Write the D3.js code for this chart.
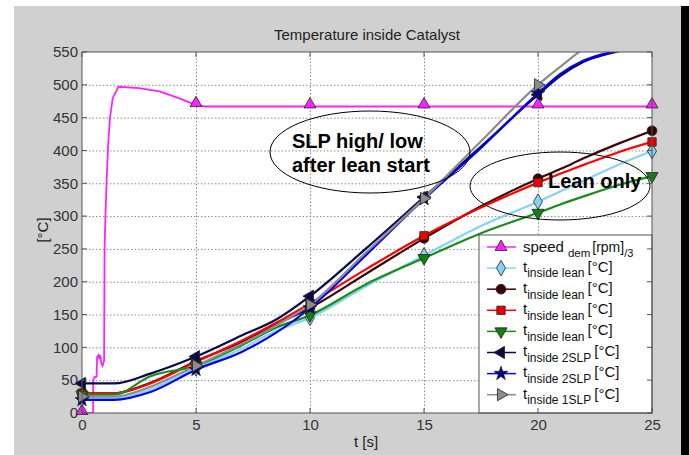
<!DOCTYPE html>
<html lang="en">
<head>
	<meta charset="utf-8">
	<title>Temperature inside Catalyst</title>
	<script src="https://d3js.org/d3.v7.min.js"></script>
	<style>
		body { margin: 0; background: #fff; }
		text { font-family: Arial, "Liberation Sans", sans-serif; }
	</style>
</head>
<body>
	<div id="chart"></div>
	<script>
		// ---- data ----
		var xTicks = [0, 5, 10, 15, 20, 25];
		var yTicks = [0, 50, 100, 150, 200, 250, 300, 350, 400, 450, 500, 550];

		// time points [s] for the temperature traces
		var tempTime = [0, 1.4, 3, 5, 7, 8.5, 10, 12.5, 15, 17.5, 20, 21, 22, 23.5, 25];
		var leanLightBlue = [22, 22, 36, 68, 98, 125, 145, 194, 240, 285, 322, 338, 354, 378, 399];
		var leanBrown     = [30, 30, 46, 79, 108, 135, 160, 213, 266, 315, 357, 372, 388, 410, 430];
		var leanRed       = [30, 30, 45, 78, 110, 137, 167, 220, 270, 313, 351, 365, 378, 397, 413];
		var leanGreen     = [28, 28, 56, 72, 103, 130, 149, 197, 236, 274, 305, 318, 330, 347, 361];
		var slp2Navy      = [45, 45, 60, 86, 118, 142, 178, 252, 329, 406, 485, 514, 535, 551, 562];
		var slp2Blue      = [20, 20, 32, 66, 93, 122, 160, 242, 326, 404, 487, 517, 537, 552, 563];
		var slp1Gray      = [25, 25, 40, 72, 105, 133, 165, 246, 327, 414, 500, 528, 555, 580, 598];

		// demanded speed [rpm]/3
		var speedTime = [0, 0.49, 0.49, 0.55, 0.64, 0.66, 0.72, 0.76, 0.8, 0.85, 0.9, 0.97, 0.99, 1.02, 1.08, 1.15, 1.23, 1.35, 1.6, 2.5, 3.4, 4.3, 5, 5.4, 25];
		var speedVals = [0, 0, 50, 55, 55, 85, 88, 82, 88, 75, 72, 80, 250, 290, 355, 410, 451, 480, 497, 495, 490, 479, 469, 467, 467];
		var speedMarkT = [0, 5, 10, 15, 20, 25];
		var speedMarkV = [0, 469, 467, 467, 467, 467];

		var W = 689, H = 455;
		var plotL = 82, plotT = 52, plotR = 652, plotB = 413;

		var svg = d3.select("#chart").append("svg")
			.attr("width", W)
			.attr("height", H);

		// figure background
		svg.append("rect").attr("x", 14).attr("y", 6).attr("width", 667).attr("height", H - 6).attr("fill", "#d0d0d0");
		svg.append("rect").attr("x", 681).attr("y", 6).attr("width", 8).attr("height", H - 6).attr("fill", "#000");
		svg.append("rect").attr("x", plotL).attr("y", plotT).attr("width", plotR - plotL).attr("height", plotB - plotT).attr("fill", "#fff");

		var x = d3.scaleLinear().domain([0, 25]).range([plotL, plotR]);
		var y = d3.scaleLinear().domain([0, 550]).range([plotB, plotT]);

		// dotted grid
		var gridX = svg.append("g")
			.attr("transform", "translate(0," + plotB + ")")
			.call(d3.axisBottom(x).tickValues(xTicks.slice(1, -1)).tickSize(-(plotB - plotT)).tickFormat(""));
		var gridY = svg.append("g")
			.attr("transform", "translate(" + plotL + ",0)")
			.call(d3.axisLeft(y).tickValues(yTicks.slice(1, -1)).tickSize(-(plotR - plotL)).tickFormat(""));
		[gridX, gridY].forEach(function(g) {
			g.select(".domain").remove();
			g.selectAll("line").attr("stroke", "#8a8a8a").attr("stroke-dasharray", "1.5,2");
		});

		// tick labels
		var xLab = svg.append("g")
			.attr("transform", "translate(0," + plotB + ")")
			.call(d3.axisBottom(x).tickValues(xTicks).tickSize(0).tickPadding(6.5));
		var yLab = svg.append("g")
			.attr("transform", "translate(" + plotL + ",0)")
			.call(d3.axisLeft(y).tickValues(yTicks).tickSize(0).tickPadding(4));
		[xLab, yLab].forEach(function(g) {
			g.select(".domain").remove();
			g.selectAll("text").attr("font-size", 15).attr("fill", "#333").attr("font-family", "Arial, 'Liberation Sans', sans-serif");
		});

		svg.append("text").attr("x", 367).attr("y", 40).attr("text-anchor", "middle")
			.attr("font-size", 15).attr("fill", "#222").text("Temperature inside Catalyst");
		svg.append("text").attr("x", 366).attr("y", 447).attr("text-anchor", "middle")
			.attr("font-size", 15).attr("fill", "#222").text("t [s]");
		svg.append("text").attr("transform", "translate(48,230) rotate(-90)").attr("text-anchor", "middle")
			.attr("font-size", 15).attr("fill", "#222").text("[°C]");

		svg.append("clipPath").attr("id", "plotClip")
			.append("rect").attr("x", plotL).attr("y", plotT).attr("width", plotR - plotL).attr("height", plotB - plotT);

		function symbolPath(type, size) {
			var shapes = {
				up: [d3.symbolTriangle, 0], down: [d3.symbolTriangle, 180],
				left: [d3.symbolTriangle, -90], right: [d3.symbolTriangle, 90],
				diamond: [d3.symbolDiamond, 0], circle: [d3.symbolCircle, 0],
				square: [d3.symbolSquare, 0], star: [d3.symbolStar, 0]
			};
			return { d: d3.symbol().type(shapes[type][0]).size(size)(), rot: shapes[type][1] };
		}

		var series = [
			{ vals: leanLightBlue, color: "#86d3f2", fill: "#86d3f2", marker: "diamond", size: 70, sub: "inside lean" },
			{ vals: leanBrown, color: "#3a0808", fill: "#3a0000", marker: "circle", size: 75, sub: "inside lean" },
			{ vals: leanRed, color: "#ff0000", fill: "#ee0000", marker: "square", size: 70, sub: "inside lean" },
			{ vals: leanGreen, color: "#1a8c1a", fill: "#118011", marker: "down", size: 65, sub: "inside lean" },
			{ vals: slp2Navy, color: "#0a0a48", fill: "#0a0a48", marker: "left", size: 65, sub: "inside 2SLP" },
			{ vals: slp2Blue, color: "#0000ee", fill: "#00008a", marker: "star", size: 60, sub: "inside 2SLP" },
			{ vals: slp1Gray, color: "#8c8c8c", fill: "#8c8c8c", marker: "right", size: 65, sub: "inside 1SLP" }
		];

		// speed line
		svg.append("path")
			.datum(speedTime.map(function(t, i) { return [t, speedVals[i]]; }))
			.attr("clip-path", "url(#plotClip)")
			.attr("fill", "none")
			.attr("stroke", "#ff22ff")
			.attr("stroke-width", 1.8)
			.attr("d", d3.line().x(function(d) { return x(d[0]); }).y(function(d) { return y(d[1]); }));

		var tempLine = d3.line()
			.curve(d3.curveMonotoneX)
			.x(function(d) { return x(d[0]); })
			.y(function(d) { return y(d[1]); });

		series.forEach(function(s) {
			var pts = tempTime.map(function(t, i) { return [t, s.vals[i]]; });
			svg.append("path")
				.datum(pts)
				.attr("clip-path", "url(#plotClip)")
				.attr("fill", "none")
				.attr("stroke", s.color)
				.attr("stroke-width", 2.2)
				.attr("d", tempLine);
		});

		// markers every 5 s
		var upSym = symbolPath("up", 62);
		svg.selectAll("path.speedMark")
			.data(speedMarkT.map(function(t, i) { return [t, speedMarkV[i]]; }))
			.enter().append("path")
			.attr("class", "speedMark")
			.attr("d", upSym.d)
			.attr("transform", function(d) { return "translate(" + x(d[0]) + "," + (y(d[1]) - 2) + ")"; })
			.attr("fill", "#ff22ff").attr("stroke", "#222").attr("stroke-width", 0.8);

		series.forEach(function(s) {
			var sym = symbolPath(s.marker, s.size);
			var pts = tempTime.map(function(t, i) { return [t, s.vals[i]]; })
				.filter(function(d) { return xTicks.indexOf(d[0]) >= 0 && d[1] <= 550; });
			svg.selectAll(null)
				.data(pts)
				.enter().append("path")
				.attr("d", sym.d)
				.attr("transform", function(d) { return "translate(" + x(d[0]) + "," + y(d[1]) + ") rotate(" + sym.rot + ")"; })
				.attr("fill", s.fill).attr("stroke", "#222").attr("stroke-width", 0.8);
		});

		// annotations
		svg.append("ellipse").attr("cx", 370).attr("cy", 152).attr("rx", 100).attr("ry", 41)
			.attr("fill", "none").attr("stroke", "#000").attr("stroke-width", 1);
		svg.append("ellipse").attr("cx", 560).attr("cy", 186).attr("rx", 90).attr("ry", 34)
			.attr("fill", "none").attr("stroke", "#000").attr("stroke-width", 1);
		svg.append("text").attr("x", 292).attr("y", 148).attr("font-size", 20).attr("font-weight", "bold").text("SLP high/ low");
		svg.append("text").attr("x", 292).attr("y", 172).attr("font-size", 20).attr("font-weight", "bold").text("after lean start");
		svg.append("text").attr("x", 548).attr("y", 188).attr("font-size", 20).attr("font-weight", "bold").text("Lean only");

		// legend
		var lg = svg.append("g");
		lg.append("rect").attr("x", 479).attr("y", 235).attr("width", 173).attr("height", 178)
			.attr("fill", "#fff").attr("stroke", "#555").attr("stroke-width", 1);
		var rowY = function(i) { return 247 + i * 21.1; };

		lg.append("line").attr("x1", 487).attr("x2", 516).attr("y1", rowY(0)).attr("y2", rowY(0))
			.attr("stroke", "#ff22ff").attr("stroke-width", 1.5);
		lg.append("path").attr("d", upSym.d).attr("transform", "translate(501," + rowY(0) + ")")
			.attr("fill", "#ff22ff").attr("stroke", "#222").attr("stroke-width", 0.8);
		var t0 = lg.append("text").attr("x", 523).attr("y", rowY(0) + 4.5).attr("fill", "#111").attr("font-size", 15);
		t0.append("tspan").text("speed");
		t0.append("tspan").attr("font-size", 11.5).attr("dx", 4).attr("dy", 5.5).text("dem");
		t0.append("tspan").attr("font-size", 14).attr("dx", 2).attr("dy", -5.5).text("[rpm]");
		t0.append("tspan").attr("font-size", 11).attr("dy", 5.5).text("/3");

		series.forEach(function(s, i) {
			var cy = rowY(i + 1);
			var sym = symbolPath(s.marker, s.size);
			lg.append("line").attr("x1", 487).attr("x2", 516).attr("y1", cy).attr("y2", cy)
				.attr("stroke", s.color).attr("stroke-width", 1.5);
			lg.append("path").attr("d", sym.d).attr("transform", "translate(501," + cy + ") rotate(" + sym.rot + ")")
				.attr("fill", s.fill).attr("stroke", "#222").attr("stroke-width", 0.8);
			var tx = lg.append("text").attr("x", 523).attr("y", cy + 3.8).attr("fill", "#111").attr("font-size", 15);
			tx.append("tspan").text("t");
			tx.append("tspan").attr("font-size", 12).attr("dx", 0).attr("dy", 5.5).text(s.sub);
			tx.append("tspan").attr("font-size", 15).attr("dx", 3).attr("dy", -5.5).text("[°C]");
		});

		// axes box with inward ticks, on top of the legend like the original
		svg.append("rect").attr("x", plotL).attr("y", plotT).attr("width", plotR - plotL).attr("height", plotB - plotT)
			.attr("fill", "none").attr("stroke", "#555").attr("stroke-width", 1);
		var tk = svg.append("g").attr("stroke", "#555").attr("stroke-width", 1);
		xTicks.forEach(function(t) {
			tk.append("line").attr("x1", x(t)).attr("x2", x(t)).attr("y1", plotB).attr("y2", plotB - 5);
			tk.append("line").attr("x1", x(t)).attr("x2", x(t)).attr("y1", plotT).attr("y2", plotT + 5);
		});
		yTicks.forEach(function(v) {
			tk.append("line").attr("x1", plotL).attr("x2", plotL + 5).attr("y1", y(v)).attr("y2", y(v));
			tk.append("line").attr("x1", plotR).attr("x2", plotR - 5).attr("y1", y(v)).attr("y2", y(v));
		});
	</script>
</body>
</html>
